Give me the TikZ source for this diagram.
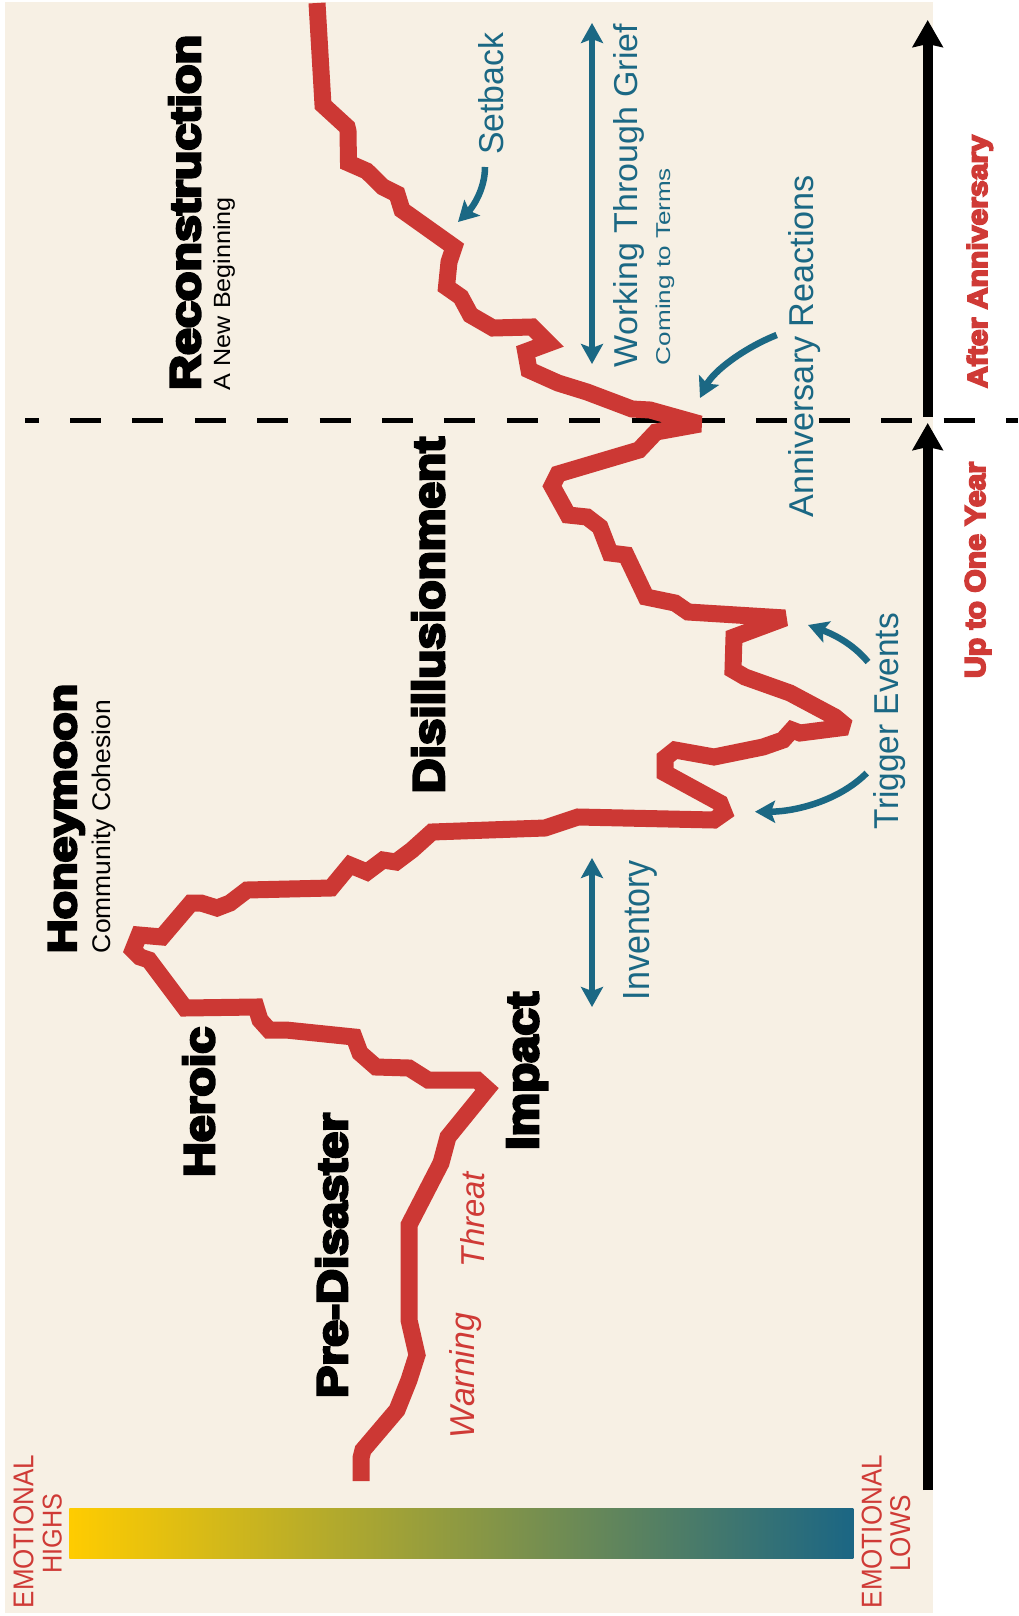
\documentclass[tikz,border=0pt]{standalone}
\usepackage{fontspec}
\usepackage{graphicx}
\setmainfont{Liberation Sans}
\newfontfamily\heavyfont[FakeBold=6]{Liberation Sans Bold}
\usetikzlibrary{arrows.meta}

\definecolor{paper}{HTML}{F7F0E4}
\definecolor{curvered}{HTML}{CC3834}
\definecolor{labelred}{HTML}{CF3A36}
\definecolor{tealblue}{HTML}{1B6884}
\definecolor{highyellow}{HTML}{FFCC00}
\definecolor{lowteal}{HTML}{1B6684}

% text squeezed to a given length (along the baseline) and height
\newcommand{\fitbox}[3]{\resizebox{#1pt}{#2pt}{#3}}

\tikzset{
  vlabel/.style={rotate=90, anchor=base west, inner sep=0pt, outer sep=0pt},
  vcentre/.style={rotate=90, anchor=base, inner sep=0pt, outer sep=0pt},
  stagetitle/.style={vlabel, text=black},
  subtitle/.style={vlabel, text=black},
  tealnote/.style={vlabel, text=tealblue},
  rednote/.style={vlabel, text=labelred},
  scalenote/.style={vcentre, text=labelred},
  tealhead/.tip={Stealth[length=20pt,width=22pt,inset=4pt]},
  axishead/.tip={Stealth[length=27pt,width=30pt,inset=3pt]},
  tealline/.style={draw=tealblue, line width=6.5pt},
  axisline/.style={draw=black, line width=10pt},
  emotion/.style={draw=curvered, line width=17pt, line join=miter, miter limit=2.2, line cap=butt},
  divider/.style={draw=black, line width=5pt, dash pattern=on 31pt off 31.4pt, dash phase=17.4pt}
}

\begin{document}
\begin{tikzpicture}[x=1pt, y=-1pt]
% page and panel
\path[use as bounding box, fill=white] (0,0) rectangle (1018,1616);
\fill[paper] (5,2) rectangle (933,1613);

% colour scale
\shade[left color=highyellow, right color=lowteal] (69.3,1508.3) rectangle (853.3,1558.3);

% anniversary divider
\coordinate (divL) at (25,420);
\coordinate (divR) at (1018,420);
\draw[divider] (divL) -- (divR);

% time axis
\coordinate (axisBot) at (927.7,1490);
\coordinate (axisMid) at (927.7,423);
\coordinate (axisUp) at (927.7,417);
\coordinate (axisTop) at (927.7,20);
\draw[axisline, -axishead] (axisBot) -- (axisMid);
\draw[axisline, -axishead] (axisUp) -- (axisTop);

% emotional curve
\draw[emotion] (317,3) -- (323,105) -- (347,127) -- (348,131) -- (348.5,163) -- (366.7,171)
  -- (383,187) -- (397,194) -- (402,210) -- (454,247) -- (449,262) -- (446.5,287)
  -- (460.8,297) -- (470.5,315) -- (493,328) -- (532,327) -- (548.4,343.3) -- (525.7,351.7)
  -- (529,370) -- (558,383) -- (587,392) -- (632,409) -- (650,410) -- (700,424)
  -- (656,432) -- (639,450) -- (558,474) -- (552,486) -- (568,515) -- (587,517)
  -- (600,527) -- (610,553) -- (626,555) -- (646,597) -- (675,603) -- (688,612)
  -- (785,618) -- (734,637) -- (733,670) -- (745,677) -- (790,693) -- (835,717)
  -- (847,727) -- (800,733) -- (792,730) -- (783,740) -- (763,747) -- (714,757)
  -- (675,750) -- (665,758) -- (665,773) -- (720,803) -- (724,813) -- (714,820)
  -- (578,817) -- (545,828) -- (432,832) -- (412,850) -- (396,862) -- (383,860)
  -- (367,872) -- (350,865) -- (331,888) -- (247,890) -- (230,903) -- (217,908)
  -- (201,903) -- (191,903) -- (162,937) -- (139,935) -- (133,950) -- (140,957)
  -- (149,960) -- (185,1008) -- (256,1007) -- (260,1020) -- (269,1030) -- (286,1030)
  -- (354,1037) -- (360,1053) -- (376,1067) -- (409,1068) -- (428,1080) -- (477,1080)
  -- (487,1089) -- (448,1137) -- (441,1163) -- (409,1225) -- (409,1320) -- (417,1355)
  -- (409,1380) -- (397,1410) -- (363,1450) -- (361,1458) -- (361,1481);

% stage titles
\node[stagetitle] (recon) at (200,390) {\fitbox{355}{31}{\heavyfont Reconstruction}};
\node[subtitle] (newbeg) at (230,390) {\fitbox{193}{17}{A New Beginning}};
\node[stagetitle] (honey) at (76,953) {\fitbox{269}{27.5}{\heavyfont Honeymoon}};
\node[subtitle] (cohes) at (110,953) {\fitbox{253}{18.5}{Community Cohesion}};
\node[stagetitle] (disill) at (444,793) {\fitbox{356}{32}{\heavyfont Disillusionment}};
\node[stagetitle] (heroic) at (214,1177) {\fitbox{150}{31}{\heavyfont Heroic}};
\node[stagetitle] (impact) at (538,1150) {\fitbox{158}{31}{\heavyfont Impact}};
\node[stagetitle] (predis) at (347,1398) {\fitbox{285}{31}{\heavyfont Pre-Disaster}};

% pre-disaster notes
\node[rednote] (threat) at (484,1267) {\fitbox{95}{24}{\itshape Threat}};
\node[rednote] (warning) at (474,1438) {\fitbox{125}{25}{\itshape Warning}};

% process notes
\node[tealnote] (setback) at (503,155) {\fitbox{122}{25}{Setback}};
\node[tealnote] (grief) at (637,367) {\fitbox{343}{24}{Working Through Grief}};
\node[tealnote] (terms) at (670,365) {\fitbox{197}{14.5}{Coming to Terms}};
\node[tealnote] (anniv) at (813,517) {\fitbox{342}{25}{Anniversary Reactions}};
\node[tealnote] (trigger) at (898,829) {\fitbox{216}{25}{Trigger Events}};
\node[tealnote] (invent) at (649,1000) {\fitbox{140}{26}{Inventory}};

% time axis labels
\node[rednote] (after) at (987,388) {\fitbox{253}{20}{\heavyfont After Anniversary}};
\node[rednote] (year) at (985,678) {\fitbox{216}{20}{\heavyfont Up to One Year}};

% colour scale labels
\node[scalenote] (hiA) at (33.3,1531.7) {\fitbox{153}{20}{EMOTIONAL}};
\node[scalenote] (hiB) at (61.7,1533.3) {\fitbox{80}{19}{HIGHS}};
\node[scalenote] (loA) at (881.7,1531.7) {\fitbox{153}{20}{EMOTIONAL}};
\node[scalenote] (loB) at (910,1533.3) {\fitbox{77}{20}{LOWS}};

% span arrows
\coordinate (griefTop) at (592,23);
\coordinate (griefBot) at (592,364);
\draw[tealline, tealhead-tealhead] (griefTop) -- (griefBot);
\coordinate (invTop) at (592,858);
\coordinate (invBot) at (592,1007);
\draw[tealline, tealhead-tealhead] (invTop) -- (invBot);

% pointer arrows
\coordinate (setS) at (485,167);
\coordinate (setE) at (458,222);
\draw[tealline, -tealhead] (setS) .. controls (485,190) and (472,208) .. (setE);
\coordinate (annS) at (776.7,335);
\coordinate (annE) at (700,398);
\draw[tealline, -tealhead] (annS) .. controls (744,348) and (713.5,371) .. (annE);
\coordinate (trgAS) at (868,662);
\coordinate (trgAE) at (808,625);
\draw[tealline, -tealhead] (trgAS) .. controls (852,642.7) and (831.5,633.5) .. (trgAE);
\coordinate (trgBS) at (866.7,773);
\coordinate (trgBE) at (755,811.7);
\draw[tealline, -tealhead] (trgBS) .. controls (838.7,801) and (795,811.7) .. (trgBE);
\end{tikzpicture}
\end{document}
